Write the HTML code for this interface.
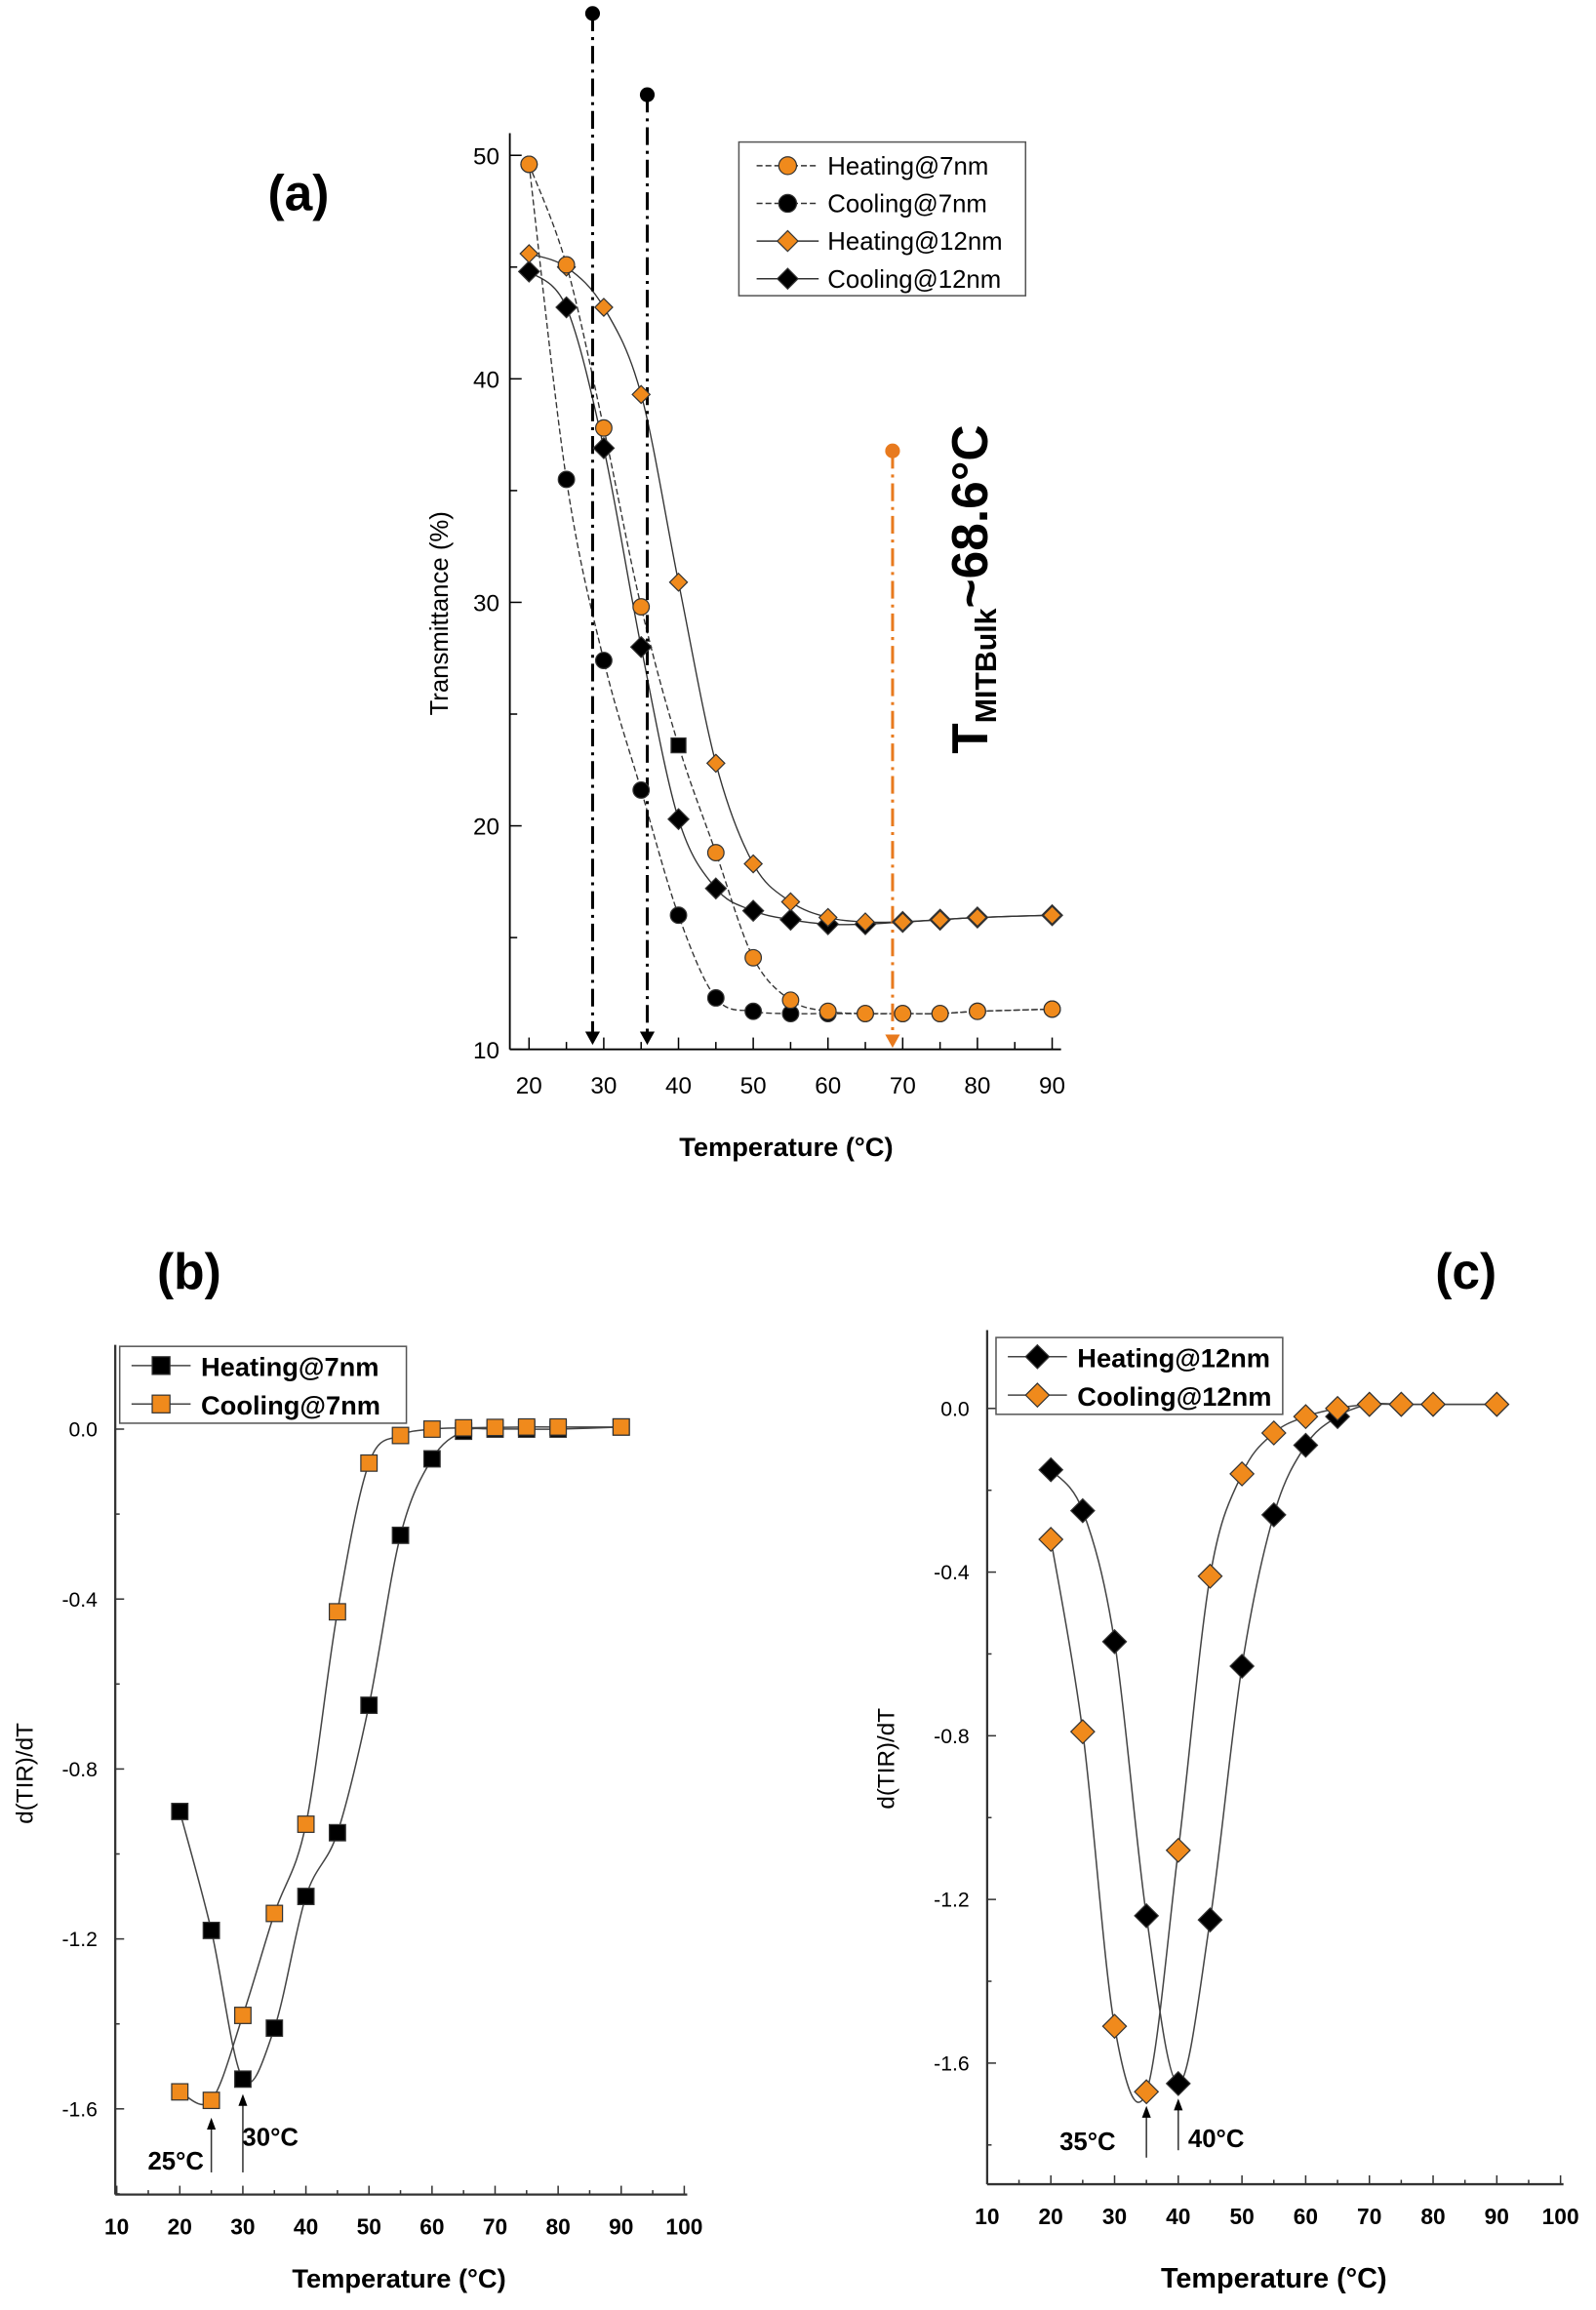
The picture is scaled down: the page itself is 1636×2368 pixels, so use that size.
<!DOCTYPE html>
<html><head><meta charset="utf-8"><style>
html,body{margin:0;padding:0;background:#fff}
svg{display:block}
text{font-family:"Liberation Sans",sans-serif}
</style></head><body>
<svg id="s" width="1636" height="2368" viewBox="0 0 1080 1563" xmlns="http://www.w3.org/2000/svg">
<rect width="1080" height="1563" fill="#fff"/>
<g id="g"></g>
<text x="202" y="142" font-size="34" font-weight="bold" text-anchor="middle">(a)</text>
<text x="128" y="872" font-size="34" font-weight="bold" text-anchor="middle">(b)</text>
<text x="992" y="872" font-size="34" font-weight="bold" text-anchor="middle">(c)</text>
<text transform="translate(303,415) rotate(-90)" font-size="17" text-anchor="middle">Transmittance (%)</text>
<text x="532" y="782" font-size="18" font-weight="bold" text-anchor="middle">Temperature (°C)</text>
<text transform="translate(668,510) rotate(-90)" font-size="34" font-weight="bold">T<tspan font-size="20" dy="6">MITBulk</tspan><tspan dy="-6">~68.6°C</tspan></text>
<text transform="translate(22,1200) rotate(-90)" font-size="16" text-anchor="middle">d(TIR)/dT</text>
<text x="270" y="1548" font-size="18" font-weight="bold" text-anchor="middle">Temperature (°C)</text>
<text transform="translate(605,1190) rotate(-90)" font-size="16" text-anchor="middle">d(TIR)/dT</text>
<text x="862" y="1548" font-size="19" font-weight="bold" text-anchor="middle">Temperature (°C)</text>
</svg>
<script>
const NS="http://www.w3.org/2000/svg",G=document.getElementById('g');
function el(t,a,txt){const e=document.createElementNS(NS,t);for(const k in a)e.setAttribute(k,a[k]);if(txt!=null)e.textContent=txt;G.appendChild(e);return e;}
const OR="#f08a1c";
function spline(p){let d="M"+p[0][0]+","+p[0][1];for(let i=0;i<p.length-1;i++){const p0=p[i-1]||p[i],p1=p[i],p2=p[i+1],p3=p[i+2]||p2;
d+=` C${p1[0]+(p2[0]-p0[0])/6},${p1[1]+(p2[1]-p0[1])/6} ${p2[0]-(p3[0]-p1[0])/6},${p2[1]-(p3[1]-p1[1])/6} ${p2[0]},${p2[1]}`;}return d;}
function mark(type,x,y,fill,r){
 if(type=='c')el('circle',{cx:x,cy:y,r:r||5.5,fill:fill,stroke:'#333','stroke-width':0.8});
 else if(type=='d')el('path',{d:`M${x},${y-(r||7)}L${x+(r||7)},${y}L${x},${y+(r||7)}L${x-(r||7)},${y}Z`,fill:fill,stroke:'#333','stroke-width':0.8});
 else el('rect',{x:x-(r||5.5),y:y-(r||5.5),width:2*(r||5.5),height:2*(r||5.5),fill:fill,stroke:'#333','stroke-width':0.8});
}
// ---- panel a
const ax=t=>358+(t-20)*5.057, ay=v=>710-(v-10)*15.125;
el('line',{x1:345,y1:90,x2:345,y2:710,stroke:'#000','stroke-width':1.2});
el('line',{x1:345,y1:710,x2:718,y2:710,stroke:'#000','stroke-width':1.2});
for(let t=20;t<=90;t+=5){el('line',{x1:ax(t),y1:710,x2:ax(t),y2:t%10?705:702,stroke:'#000'});}
for(let t=20;t<=90;t+=10)el('text',{x:ax(t),y:740,'font-size':16,'text-anchor':'middle'},t);
for(let v=10;v<=50;v+=5){el('line',{x1:345,y1:ay(v),x2:v%10?350:353,y2:ay(v),stroke:'#000'});}
for(let v=10;v<=50;v+=10)el('text',{x:338,y:ay(v)+6,'font-size':16,'text-anchor':'end'},v);
const T=[20,25,30,35,40,45,50,55,60,65,70,75,80,90];
const h7=[49.6,45.1,37.8,29.8,23.6,18.8,14.1,12.2,11.7,11.6,11.6,11.6,11.7,11.8];
const c7=[49.6,35.5,27.4,21.6,16,12.3,11.7,11.6,11.6,11.6,11.6,11.6,11.7,11.8];
const h12=[45.6,45,43.2,39.3,30.9,22.8,18.3,16.6,15.9,15.7,15.7,15.8,15.9,16];
const c12=[44.8,43.2,36.9,28,20.3,17.2,16.2,15.8,15.6,15.6,15.7,15.8,15.9,16];
[[h7,'4,2'],[c7,'4,2'],[h12,null],[c12,null]].forEach(([d,da])=>{const a={d:spline(T.map((t,i)=>[ax(t),ay(d[i])])),fill:'none',stroke:'#333','stroke-width':0.9};if(da)a['stroke-dasharray']=da;el('path',a);});
// arrows
function varr(x,y1,y2,col){el('line',{x1:x,y1:y1,x2:x,y2:y2-8,stroke:col,'stroke-width':2,'stroke-dasharray':'12,4,2,4'});el('circle',{cx:x,cy:y1,r:5,fill:col});el('path',{d:`M${x-5},${y2-9}L${x+5},${y2-9}L${x},${y2}Z`,fill:col});}
varr(401,9,707,'#000');varr(438,64,707,'#000');varr(604,305,709,'#e87a1e');
T.forEach((t,i)=>mark('d',ax(t),ay(c12[i]),'#000',7));
T.forEach((t,i)=>mark('d',ax(t),ay(h12[i]),OR,6));
T.forEach((t,i)=>mark('c',ax(t),ay(c7[i]),'#000',5.5));
T.forEach((t,i)=>{if(t==40)mark('s',ax(t),ay(h7[i]),'#000',5);else mark('c',ax(t),ay(h7[i]),OR,5.5);});
// legend a
el('rect',{x:500,y:96,width:194,height:104,fill:'#fff',stroke:'#555'});
[['c',OR,'4,2','Heating@7nm'],['c','#000','4,2','Cooling@7nm'],['d',OR,null,'Heating@12nm'],['d','#000',null,'Cooling@12nm']].forEach((l,i)=>{const y=112+i*25.5;const a={x1:512,y1:y,x2:554,y2:y,stroke:'#333'};if(l[2])a['stroke-dasharray']=l[2];el('line',a);mark(l[0],533,y,l[1],l[0]=='d'?7:6);el('text',{x:560,y:y+6,'font-size':17},l[3]);});
// ---- panel b/c generic
function panel(o){
 const X=t=>o.x0+(t-10)*o.sx, Y=v=>o.y0-v*o.sy;
 el('line',{x1:o.left,y1:o.top,x2:o.left,y2:o.bot,stroke:'#333','stroke-width':1.5});
 el('line',{x1:o.left,y1:o.bot,x2:X(100)+2,y2:o.bot,stroke:'#333','stroke-width':1.5});
 for(let t=10;t<=100;t+=5)el('line',{x1:X(t),y1:o.bot,x2:X(t),y2:o.bot-(t%10?3:6),stroke:'#333'});
 for(let t=10;t<=100;t+=10)el('text',{x:X(t),y:o.bot+27,'font-size':15,'font-weight':'bold','text-anchor':'middle'},t);
 for(let v=0;v>=-1.8;v-=0.2){el('line',{x1:o.left,y1:Y(v),x2:o.left+(Math.round(v*10)%4?3:6),y2:Y(v),stroke:'#333'});}
 for(let v=0;v>=-1.6;v-=0.4)el('text',{x:o.left-12,y:Y(v)+5,'font-size':14,'text-anchor':'end'},v==0?'0.0':v.toFixed(1));
 o.series.forEach(s=>{el('path',{d:spline(T.map((t,i)=>[X(t),Y(s.d[i])])),fill:'none',stroke:'#444','stroke-width':1});});
 o.series.forEach(s=>T.forEach((t,i)=>mark(o.m,X(t),Y(s.d[i]),s.c,o.m=='d'?8:5.5)));
 el('rect',{x:o.lx,y:o.ly,width:o.lw,height:52,fill:'#fff',stroke:'#555'});
 o.series.forEach((s,i)=>{const y=o.ly+13+i*26;el('line',{x1:o.lx+8,y1:y,x2:o.lx+48,y2:y,stroke:'#444'});mark(o.m,o.lx+28,y,s.c,o.m=='d'?8:6);el('text',{x:o.lx+55,y:y+7,'font-size':18,'font-weight':'bold'},s.n);});
 o.ann.forEach(a=>{el('line',{x1:X(a[0]),y1:a[1],x2:X(a[0]),y2:a[2]+6,stroke:'#333'});el('path',{d:`M${X(a[0])-3},${a[2]+8}L${X(a[0])+3},${a[2]+8}L${X(a[0])},${a[2]}Z`,fill:'#000'});el('text',{x:a[3],y:a[4],'font-size':17,'font-weight':'bold'},a[5]);});
}
panel({x0:79,sx:4.267,y0:967,sy:287.5,left:78,top:910,bot:1485,m:'s',lx:81,ly:911,lw:194,
 series:[{n:'Heating@7nm',c:'#000',d:[-0.9,-1.18,-1.53,-1.41,-1.1,-0.95,-0.65,-0.25,-0.07,-0.005,0,0,0,0.005]},
 {n:'Cooling@7nm',c:OR,d:[-1.56,-1.58,-1.38,-1.14,-0.93,-0.43,-0.08,-0.015,0,0.003,0.004,0.005,0.005,0.005]}],
 ann:[[25,1470,1433,100,1468,'25°C'],[30,1470,1417,164,1452,'30°C']]});
panel({x0:668,sx:4.311,y0:953,sy:276.9,left:668,top:900,bot:1478,m:'d',lx:674,ly:905,lw:194,
 series:[{n:'Heating@12nm',c:'#000',d:[-0.15,-0.25,-0.57,-1.24,-1.65,-1.25,-0.63,-0.26,-0.09,-0.02,0.01,0.01,0.01,0.01]},
 {n:'Cooling@12nm',c:OR,d:[-0.32,-0.79,-1.51,-1.67,-1.08,-0.41,-0.16,-0.06,-0.02,0,0.01,0.01,0.01,0.01]}],
 ann:[[35,1460,1425,717,1455,'35°C'],[40,1455,1420,804,1453,'40°C']]});
</script>
</body></html>
